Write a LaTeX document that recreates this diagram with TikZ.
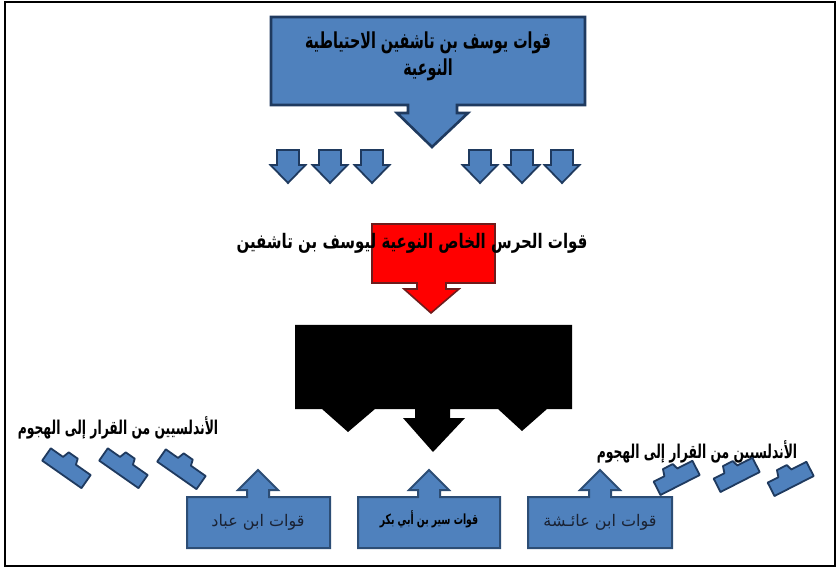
\documentclass[tikz,border=0pt]{standalone}
\usepackage{graphicx}
\usepackage{fontspec}
\newfontfamily\arabicfont[Script=Arabic]{DejaVu Sans}
\TeXXeTstate=1
% right-to-left text, optionally narrowed horizontally
\newcommand\rtltext[2][1]{\scalebox{#1}[1]{\beginR #2\endR}}

\definecolor{boxblue}{HTML}{4F81BD}
\definecolor{boxline}{HTML}{2C4D75}
\definecolor{boxlinedark}{HTML}{1F3A5F}
\definecolor{guardred}{HTML}{FF0000}
\definecolor{guardline}{HTML}{6E1C1C}
\definecolor{boxtext}{HTML}{1A2233}

\tikzset{
  bluecall/.style={fill=boxblue, draw=boxline, line width=2pt, line join=miter},
  topcall/.style={bluecall, draw=boxlinedark, line width=2.6pt},
  redcall/.style={fill=guardred, draw=guardline, line width=1.6pt, line join=miter},
  blackcall/.style={fill=black},
  tiltarrow/.style={fill=boxblue, draw=boxlinedark, line width=1.8pt, line join=round},
  lbl/.style={inner sep=0pt, text=black, font=\arabicfont\bfseries\fontsize{19}{21}\selectfont},
  redlbl/.style={lbl, font=\arabicfont\bfseries\fontsize{20}{22}\selectfont},
  toplbl/.style={lbl, font=\arabicfont\bfseries\fontsize{22}{24}\selectfont},
  boxlbl/.style={inner sep=0pt, text=boxtext, font=\arabicfont\fontsize{16}{18}\selectfont},
  smalllbl/.style={lbl, font=\arabicfont\bfseries\fontsize{14}{16}\selectfont},
}

\begin{document}
\begin{tikzpicture}[x=1pt, y=-1pt]
\useasboundingbox (0,0) rectangle (838,569);

% outer frame
\draw[line width=2.5pt] (5,2) rectangle (835,566);

% reserve forces: box with a down arrow
\draw[topcall] (271,17) -- (585,17) -- (585,105) -- (457,105) -- (457,113)
  -- (468,113) -- (432,147) -- (397,113) -- (408,113) -- (408,105)
  -- (271,105) -- cycle;
\node[toplbl] (reserve1) at (428,43) {\rtltext[0.65]{قوات يوسف بن تاشفين الاحتياطية}};
\node[toplbl] (reserve2) at (428,70) {\rtltext[0.65]{النوعية}};

% six small down arrows
\foreach \c in {288,330,372,480,522,562}{
  \draw[bluecall, line width=1.8pt, draw=boxlinedark]
    (\c-11,150) -- (\c+11,150) -- (\c+11,165) -- (\c+17.5,165) -- (\c,183)
    -- (\c-17.5,165) -- (\c-11,165) -- cycle;
}

% guard: red box with a down arrow
\draw[redcall] (372,224) -- (495,224) -- (495,283) -- (446,283) -- (446,289)
  -- (459,289) -- (431,313) -- (404,289) -- (417,289) -- (417,283)
  -- (372,283) -- cycle;
\node[redlbl] (guard) at (412,243) {\rtltext[0.75]{قوات الحرس الخاص النوعية ليوسف بن تاشفين}};

% black block with three arrow heads
\fill[blackcall] (295,325) -- (572,325) -- (572,409) -- (547,409) -- (522,431)
  -- (498,409) -- (450,409) -- (450,418) -- (465,418) -- (433,452)
  -- (403,418) -- (415,418) -- (415,409) -- (375,409) -- (348,432)
  -- (322,409) -- (295,409) -- cycle;

% three boxes with up arrows
\foreach \l/\c/\r in {187/258/330, 358/429/500, 528/600/672}{
  \draw[bluecall] (\l,548) -- (\l,497) -- (\c-11,497) -- (\c-11,490)
    -- (\c-20,490) -- (\c,470) -- (\c+20,490) -- (\c+11,490) -- (\c+11,497)
    -- (\r,497) -- (\r,548) -- cycle;
}
\node[boxlbl] (abbad) at (258,522) {\rtltext{قوات ابن عباد}};
\node[smalllbl] (sir) at (429,519) {\rtltext[0.66]{قوات سير بن أبي بكر}};
\node[boxlbl] (aisha) at (600,522) {\rtltext{قوات ابن عائـشة}};

% Andalusian troops, left wing
\node[lbl] (andalus1) at (118,428) {\rtltext[0.65]{الأندلسيين من القرار إلى الهجوم}};
\foreach \x/\y in {67/467, 124/467, 182/468}{
  \begin{scope}[shift={(\x,\y)}, rotate=-35]
    \draw[tiltarrow] (-24,9) -- (24,9) -- (24,-7) -- (6,-7) -- (4,-13)
      -- (-7,-13) -- (-9,-6) -- (-24,-6) -- cycle;
  \end{scope}
}

% Andalusian troops, right wing
\node[lbl] (andalus2) at (697,452) {\rtltext[0.65]{الأندلسيين من القرار إلى الهجوم}};
\foreach \x/\y in {676/477, 736/474, 790/478}{
  \begin{scope}[shift={(\x,\y)}, rotate=27]
    \draw[tiltarrow] (-22,9) -- (22,9) -- (22,-7) -- (5,-7) -- (3,-13)
      -- (-8,-13) -- (-10,-6) -- (-22,-6) -- cycle;
  \end{scope}
}
\end{tikzpicture}
\end{document}
